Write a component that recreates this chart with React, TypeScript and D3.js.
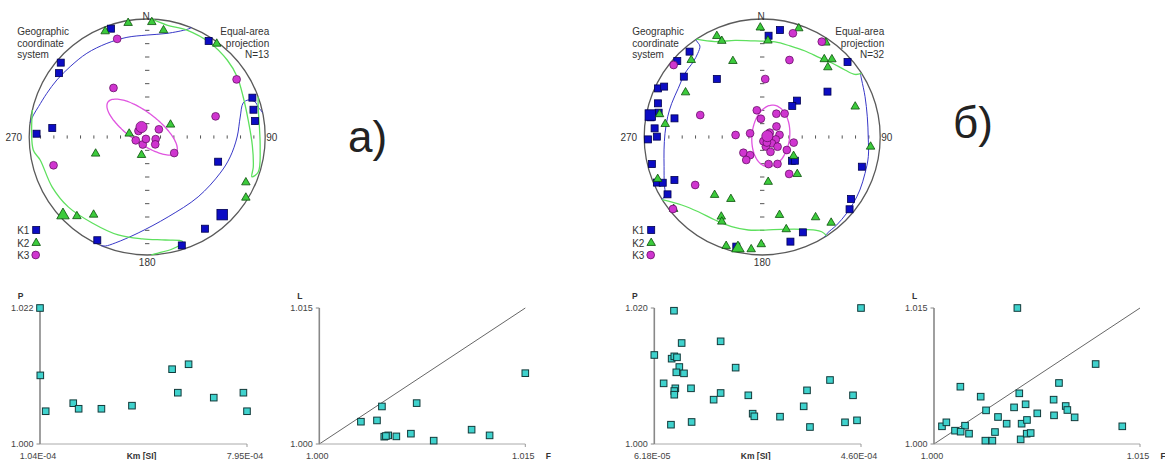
import React from 'react';
import * as d3 from 'd3';

type DI = [number, number];

// ---------- Stereonet (a): declination / inclination, lower hemisphere ----------
const NET_A_K1: DI[] = [[341.5,3.6],[310.7,3.8],[305.9,8.5],[32.6,3.8],[69.5,5.4],[75.6,7.8],[81.6,8.4],[275.4,20.3],[271.7,6.9],[109.2,36.5],[147.8,9.0],[205.8,3.2],[162.3,4.0]];
const NET_A_K1_MEAN: DI = [136.0, 9.4];
const NET_A_K2: DI[] = [[350.5,2.3],[2.3,2.9],[338.3,4.1],[8.7,9.4],[36.7,1.6],[62.1,71.8],[280.5,77.4],[197.5,77],[252.1,52.1],[114.7,8.8],[121.6,2.1],[221.6,11.2],[214.6,21.1]];
const NET_A_K2_MEAN: DI = [227.1, 2.9];
const NET_A_K3: DI[] = [[343,14.1],[57.2,10.8],[325.5,48.2],[73.2,39.3],[253.2,18.2],[304.7,82.7],[56.7,80.4],[253.6,81.8],[210.6,84],[213.7,88.4],[104,84],[132.5,82.5],[120.7,68.3]];
const NET_A_K3_MEAN: DI = [330.5, 82.1];
const NET_A_K1_CONF: DI[][] = [
  [[22,0],[20.4,3],[10.8,11.6],[359.8,14.7],[348.5,14.9],[336.7,14.7],[324.2,13.6],[312.4,12.6],[302.3,10.4],[293.5,8],[285.6,4.9],[281,2.1],[277,0]],
  [[203.1,0],[201,1.2],[196.8,6.9],[185.4,19.4],[165.3,30.7],[139.6,33.8],[116.3,31.6],[103.5,28.5],[90,24.8],[77.9,20.5],[70.5,14.8],[69.9,9.6],[72,4.3],[74.9,2.9],[78,0]],
];
const NET_A_K2_CONF: DI[][] = [
  [[2.4,0],[10,4.1],[20.4,3.8],[33.8,4.6],[46.1,6.6],[56.3,9.1],[67.4,12.9],[80.4,14.3],[94.6,11.6],[105.8,7.3],[110.8,5.7],[107.5,1.5],[94.9,4.4],[74.9,2.9],[70,0]],
  [[283.2,0],[263.5,3.2],[257.9,8],[242.2,9.9],[228.5,11.6],[212.6,14.6],[196.5,14.5],[182.8,14.6],[170.1,12.4],[161.4,7.7],[161.7,6],[167.4,3.1],[174.6,1.3],[178,0]],
];
// K3 confidence ellipse: [dec, inc, semi-major deg, semi-minor deg, azimuth of major axis]
const NET_A_K3_ELLIPSE = [334, 82.1, 29.5, 10.3, 127];

// ---------- Stereonet (b) ----------
const NET_B_K1: DI[] = [[3.6,15.1],[9.4,9],[319.6,5.6],[311.8,3.9],[307.6,17.3],[322,37.6],[48.7,4.2],[55.2,33.1],[43.7,54.9],[44.1,60],[295,2.9],[297.2,7.3],[287.9,7.9],[283.2,10.8],[282,25],[274.6,9.4],[268.8,3.6],[270.2,11.7],[256.2,4.2],[246.6,3.1],[245.3,8],[243.9,18.3],[238.8,6.9],[128.6,63.6],[106.6,12.9],[124.9,9],[129.6,4.4],[156.9,13.2],[164.9,9],[193.3,5.1],[280,4.5],[126,62]];
const NET_B_K1_MEAN: DI = [281.1, 3.8];
const NET_B_K2: DI[] = [[359,8],[18.6,3.2],[3.4,19.3],[335.8,6.9],[337.2,12.7],[34,4],[38.6,16.8],[41.9,12.6],[43.3,20],[338.9,31.6],[317.3,12.3],[300.2,25.8],[71.9,18.2],[282.5,11.9],[277.6,18.2],[95.1,8.6],[121.2,64.6],[136.6,54.4],[172.4,58.5],[248.1,5.1],[219.4,36.6],[206.8,40.8],[230.9,3.7],[207.2,25.1],[205.5,21.6],[167.5,32.8],[146.4,19.4],[141.2,7.5],[165.4,20.3],[198.3,3.1],[185.6,4.9],[180.5,10]];
const NET_B_K2_MEAN: DI = [192.3, 3.9];
const NET_B_K3: DI[] = [[16.5,9.2],[32,5.3],[19.5,31.4],[3,49.3],[309.1,3.7],[289.5,43.6],[274.3,71.6],[287,81.3],[348.6,71.2],[355.8,77.4],[31.3,71.2],[43.8,67.6],[53.6,77.8],[83,78],[100.2,80.5],[123.2,82],[159.2,83],[122.2,77.5],[150.9,78.3],[117.8,70.8],[100.1,67.9],[230,73.1],[213.7,75],[214.8,70.7],[166.8,70.8],[150.4,68.6],[143.9,58.2],[234.4,30.8],[231.1,3.2],[164,87],[140,85],[60,84]];
const NET_B_K3_MEAN: DI = [80, 86.4];
const NET_B_K1_CONF: DI[][] = [
  [[326,0],[325.7,1.7],[325.6,7.3],[322.4,11.5],[317.5,14.6],[309.5,16.3],[300.1,18.9],[290.4,19.3],[282.1,19.2],[272.2,18.7],[262.5,17.2],[253.2,14.2],[244.7,9],[239.2,4.6],[238,0]],
  [[57,1],[60.2,3.2],[68.6,7.1],[79.1,10.2],[90.2,11.1],[100.5,9.4],[109.5,8.4],[118.5,6.5],[126,5.1],[132.1,4],[139.7,2.6],[146,1.7],[148,0]],
];
const NET_B_K2_CONF: DI[][] = [
  [[326,0],[333.7,10.7],[344.3,16.1],[355.7,19.5],[7.7,19.8],[17,20.4],[26.5,19.7],[36.2,18.1],[43.3,14.9],[51,10.7],[56,5.8],[57.4,0]],
  [[238,0],[229.8,11.7],[220.5,17.8],[209.6,20.2],[198.8,20.8],[188.5,21.4],[178.3,22.2],[168.1,21.1],[156.8,16],[150.4,10.2],[147.9,5.8],[147,1.2],[147,0]],
];
const NET_B_K3_ELLIPSE = [83, 84, 21.3, 13, 6];

// ---------- Scatter plots ----------
const A_KM = [1.04, 1.05, 1.23, 2.15, 2.33, 3.09, 4.11, 5.45, 6.00, 5.64, 6.84, 7.83, 7.95]; // x1e-4 SI
const A_P = [1.0220, 1.0111, 1.0053, 1.0066, 1.0057, 1.0057, 1.0062, 1.0121, 1.0129, 1.0083, 1.0075, 1.0083, 1.0053];
const A_F = [1.00303, 1.0042, 1.00456, 1.00709, 1.00473, 1.00502, 1.00485, 1.00561, 1.00667, 1.00833, 1.01109, 1.0124, 1.0150];
const A_L = [1.00246, 1.0026, 1.00414, 1.00451, 1.00081, 1.00095, 1.00088, 1.00084, 1.00114, 1.00037, 1.00158, 1.00095, 1.00781];

const B_KM = [0.618, 0.997, 1.145, 0.952, 1.003, 1.055, 1.10, 1.042, 1.19, 0.798, 1.023, 1.003, 1.003, 1.325, 0.939, 1.337, 1.896, 2.185, 1.896, 1.761, 2.429, 2.513, 2.545, 3.04, 3.496, 3.56, 3.617, 4.003, 4.292, 4.446, 4.523, 4.60];
const B_P = [1.01309, 1.0196, 1.01485, 1.01255, 1.01289, 1.01275, 1.01132, 1.01054, 1.01039, 1.00892, 1.00819, 1.00779, 1.00725, 1.00819, 1.00284, 1.00324, 1.0151, 1.01123, 1.0075, 1.00652, 1.00716, 1.00446, 1.00407, 1.00402, 1.00554, 1.00789, 1.0025, 1.00941, 1.00319, 1.00716, 1.00348, 1.020];
const B_F = [1.00607, 1.01177, 1.00192, 1.0034, 1.0091, 1.00621, 1.00871, 1.00379, 1.00583, 1.00667, 1.00959, 1.00971, 1.00752, 1.00874, 1.01024, 1.00466, 1.00529, 1.00638, 1.00677, 1.00058, 1.0009, 1.00226, 1.00153, 1.00194, 1.00255, 1.00444, 1.00374, 1.00425, 1.00631, 1.00675, 1.00704, 1.01371];
const B_L = [1.015, 1.00882, 1.00632, 1.00522, 1.00673, 1.00559, 1.00489, 1.00371, 1.00404, 1.00438, 1.00419, 1.00375, 1.00338, 1.00316, 1.00294, 1.00298, 1.00224, 1.00224, 1.00265, 1.00195, 1.00239, 1.00202, 1.00147, 1.00136, 1.00114, 1.00132, 1.00037, 1.00037, 1.00051, 1.00114, 1.00121, 1.00195];

const A_KM_TICKS = ['1.04E-04', '7.95E-04'];
const A_P_TICKS = ['1.000', '1.022'];
const B_KM_TICKS = ['6.18E-05', '4.60E-04'];
const B_P_TICKS = ['1.000', '1.020'];
const FL_TICKS = ['1.000', '1.015'];

const FONT = "'Liberation Sans', Arial, Helvetica, sans-serif";
const RAD = Math.PI / 180;

function makeProj(cx: number, cy: number, R: number) {
  const rs = d3.scaleLinear().domain([0, 1]).range([0, R]);
  return (dec: number, inc: number): [number, number] => {
    const colat = (90 - inc) * RAD;
    const rho = Math.SQRT2 * Math.sin(colat / 2);
    const d = dec * RAD;
    return [cx + rs(rho) * Math.sin(d), cy - rs(rho) * Math.cos(d)];
  };
}

function toVec(dec: number, inc: number) {
  const d = dec * RAD, i = inc * RAD;
  return [Math.cos(i) * Math.cos(d), Math.cos(i) * Math.sin(d), Math.sin(i)];
}
function fromVec(v: number[]): DI {
  let [x, y, z] = v;
  if (z < 0) { x = -x; y = -y; z = -z; }
  return [Math.atan2(y, x) / RAD, Math.asin(Math.min(1, z)) / RAD];
}
function ellipseDI(p: number[]): DI[] {
  const [dec, inc, a, b, az] = p;
  const C = toVec(dec, inc);
  const h = [Math.cos(az * RAD), Math.sin(az * RAD), 0];
  const hc = h[0] * C[0] + h[1] * C[1] + h[2] * C[2];
  let A = [h[0] - hc * C[0], h[1] - hc * C[1], h[2] - hc * C[2]];
  const n = Math.hypot(A[0], A[1], A[2]);
  A = A.map((v) => v / n);
  const B = [C[1] * A[2] - C[2] * A[1], C[2] * A[0] - C[0] * A[2], C[0] * A[1] - C[1] * A[0]];
  const out: DI[] = [];
  const ar = a * RAD, br = b * RAD;
  for (let t = 0; t < 360; t += 3) {
    const tr = t * RAD;
    const r = (ar * br) / Math.sqrt((br * Math.cos(tr)) ** 2 + (ar * Math.sin(tr)) ** 2);
    const v = [0, 1, 2].map((k) => Math.cos(r) * C[k] + Math.sin(r) * (Math.cos(tr) * A[k] + Math.sin(tr) * B[k]));
    out.push(fromVec(v));
  }
  return out;
}

const BLUE_FILL = '#0c0cc4', BLUE_STROKE = '#000050';
const GREEN_FILL = '#3ccb3c', GREEN_STROKE = '#0b4f0b';
const MAG_FILL = '#cf35cf', MAG_STROKE = '#5a0a5a';

function Square({ x, y, s }: { x: number; y: number; s: number }) {
  return <rect x={x - s / 2} y={y - s / 2} width={s} height={s} fill={BLUE_FILL} stroke={BLUE_STROKE} strokeWidth={0.8} />;
}
function Tri({ x, y, s }: { x: number; y: number; s: number }) {
  const p = d3.symbol(d3.symbolTriangle, (Math.sqrt(3) / 4) * s * s)();
  return <path d={p || ''} transform={`translate(${x},${y})`} fill={GREEN_FILL} stroke={GREEN_STROKE} strokeWidth={0.8} />;
}
function Dot({ x, y, r }: { x: number; y: number; r: number }) {
  return <circle cx={x} cy={y} r={r} fill={MAG_FILL} stroke={MAG_STROKE} strokeWidth={0.7} />;
}

interface NetProps {
  cx: number; cy: number; R: number; n: number;
  k1: DI[]; k2: DI[]; k3: DI[]; m1: DI; m2: DI; m3: DI;
  c1: DI[][]; c2: DI[][]; e3: number[];
}

function Stereonet(p: NetProps) {
  const { cx, cy, R } = p;
  const proj = makeProj(cx, cy, R);
  const line = d3.line<[number, number]>().curve(d3.curveCatmullRom.alpha(0.5));
  const closed = d3.line<[number, number]>().curve(d3.curveCardinalClosed);
  const step = R / 8.85;
  const ks = d3.range(-8, 9).filter((k) => k !== 0);
  const lx = cx - 130;
  return (
    <g>
      <circle cx={cx} cy={cy} r={R} fill="none" stroke="#5a5a5a" strokeWidth={1.3} />
      {ks.map((k) => (
        <line key={'h' + k} x1={cx + k * step} x2={cx + k * step} y1={cy - 1.6} y2={cy + 1.6} stroke="#555" strokeWidth={1} />
      ))}
      {ks.map((k) => (
        <line key={'v' + k} x1={cx - 2.2} x2={cx + 2.2} y1={cy + k * step} y2={cy + k * step} stroke="#555" strokeWidth={1} />
      ))}
      {p.c1.map((c, i) => (
        <path key={'b' + i} d={line(c.map((d) => proj(d[0], d[1]))) || ''} fill="none" stroke="#3838c8" strokeWidth={1} />
      ))}
      {p.c2.map((c, i) => (
        <path key={'g' + i} d={line(c.map((d) => proj(d[0], d[1]))) || ''} fill="none" stroke="#5ee05e" strokeWidth={1.3} />
      ))}
      <path d={closed(ellipseDI(p.e3).map((d) => proj(d[0], d[1]))) || ''} fill="none" stroke="#e055e0" strokeWidth={1.3} />
      {p.k1.map((d, i) => { const [x, y] = proj(d[0], d[1]); return <Square key={'s' + i} x={x} y={y} s={7} />; })}
      {(() => { const [x, y] = proj(p.m1[0], p.m1[1]); return <Square x={x} y={y} s={10.5} />; })()}
      {p.k2.map((d, i) => { const [x, y] = proj(d[0], d[1]); return <Tri key={'t' + i} x={x} y={y} s={8.5} />; })}
      {(() => { const [x, y] = proj(p.m2[0], p.m2[1]); return <Tri x={x} y={y} s={12.5} />; })()}
      {p.k3.map((d, i) => { const [x, y] = proj(d[0], d[1]); return <Dot key={'c' + i} x={x} y={y} r={3.9} />; })}
      {(() => { const [x, y] = proj(p.m3[0], p.m3[1]); return <Dot x={x} y={y} r={5.6} />; })()}
      <g fontFamily={FONT} fontSize={10} fill="#333">
        <text x={cx - 1} y={20} textAnchor="middle">N</text>
        <text x={cx - R - 7} y={cy + 3.5} textAnchor="end">270</text>
        <text x={cx + R + 1} y={cy + 3.5}>90</text>
        <text x={cx} y={cy + R + 11} textAnchor="middle">180</text>
        <text x={lx} y={35}>Geographic</text>
        <text x={lx} y={46.5}>coordinate</text>
        <text x={lx} y={58}>system</text>
        <text x={cx + 122} y={35} textAnchor="end">Equal-area</text>
        <text x={cx + 122} y={46.5} textAnchor="end">projection</text>
        <text x={cx + 122} y={58} textAnchor="end">{`N=${p.n}`}</text>
        <text x={lx} y={233.5}>K1</text>
        <text x={lx} y={246.5}>K2</text>
        <text x={lx} y={259}>K3</text>
      </g>
      <Square x={lx + 19} y={230} s={7} />
      <Tri x={lx + 19} y={243} s={8.5} />
      <Dot x={lx + 18.5} y={255} r={3.9} />
    </g>
  );
}

interface ScatterProps {
  x0: number; x1: number; yTop: number; yBot: number;
  xDom: [number, number]; yDom: [number, number];
  xs: number[]; ys: number[];
  xTicks: string[]; yTicks: string[];
  yTitle: string; xTitle?: string; rightTitle?: string; diagonal?: boolean;
}

function Scatter(p: ScatterProps) {
  const x = d3.scaleLinear().domain(p.xDom).range([p.x0, p.x1]);
  const y = d3.scaleLinear().domain(p.yDom).range([p.yBot, p.yTop]);
  const s = 6.6;
  const base = p.yBot + 14.5;
  return (
    <g fontFamily={FONT}>
      {p.diagonal && (
        <line x1={x(p.xDom[0])} y1={y(p.yDom[0])} x2={x(p.xDom[1])} y2={y(p.yDom[1])} stroke="#555" strokeWidth={0.9} />
      )}
      <line x1={p.x0} x2={p.x1} y1={p.yBot} y2={p.yBot} stroke="#aaa" strokeWidth={1} />
      <line x1={p.x1} x2={p.x1} y1={p.yBot} y2={p.yBot + 3} stroke="#999" strokeWidth={1} />
      <line x1={p.x0} x2={p.x0} y1={p.yTop} y2={p.yBot} stroke="#888" strokeWidth={1.6} />
      <line x1={p.x0 - 3.5} x2={p.x0} y1={p.yTop} y2={p.yTop} stroke="#888" strokeWidth={1} />
      <line x1={p.x0 - 3.5} x2={p.x0} y1={p.yBot} y2={p.yBot} stroke="#888" strokeWidth={1} />
      {p.xs.map((v, i) => (
        <rect key={i} x={x(v) - s / 2} y={y(p.ys[i]) - s / 2} width={s} height={s} fill="#3fd2cd" stroke="#123a3a" strokeWidth={1} />
      ))}
      <g fontSize={9} fill="#444">
        <text x={p.x0 - 6.5} y={p.yTop + 3.3} textAnchor="end">{p.yTicks[1]}</text>
        <text x={p.x0 - 6.5} y={p.yBot + 3.3} textAnchor="end">{p.yTicks[0]}</text>
        <text x={p.x0 - 2} y={base} textAnchor="middle">{p.xTicks[0]}</text>
        <text x={p.x1 - 2} y={base} textAnchor="middle">{p.xTicks[1]}</text>
      </g>
      <g fontSize={8.5} fontWeight="bold" fill="#333">
        <text x={p.x0 - 19.5} y={p.yTop - 9} textAnchor="middle">{p.yTitle}</text>
        {p.xTitle && <text x={(p.x0 + p.x1) / 2 - 2} y={base} textAnchor="middle">{p.xTitle}</text>}
        {p.rightTitle && <text x={p.x1 + 23} y={base} textAnchor="middle">{p.rightTitle}</text>}
      </g>
    </g>
  );
}

export default function App() {
  React.useLayoutEffect(() => {
    document.body.style.margin = '0';
  }, []);
  const yTop = 308, yBot = 444;
  return (
    <svg width={1165} height={460} style={{ position: 'absolute', left: 0, top: 0, background: '#fff' }}>
      <rect width={1165} height={460} fill="#fff" />
      <Stereonet cx={147.2} cy={137} R={118} n={13} k1={NET_A_K1} k2={NET_A_K2} k3={NET_A_K3}
        m1={NET_A_K1_MEAN} m2={NET_A_K2_MEAN} m3={NET_A_K3_MEAN} c1={NET_A_K1_CONF} c2={NET_A_K2_CONF} e3={NET_A_K3_ELLIPSE} />
      <Stereonet cx={762.2} cy={137} R={118} n={32} k1={NET_B_K1} k2={NET_B_K2} k3={NET_B_K3}
        m1={NET_B_K1_MEAN} m2={NET_B_K2_MEAN} m3={NET_B_K3_MEAN} c1={NET_B_K1_CONF} c2={NET_B_K2_CONF} e3={NET_B_K3_ELLIPSE} />
      <text x={348} y={152} fontFamily={FONT} fontSize={44} fill="#222">а)</text>
      <text x={953} y={138} fontFamily={FONT} fontSize={44} fill="#222">б)</text>
      <Scatter x0={40} x1={247} yTop={yTop} yBot={yBot} xDom={[1.04, 7.95]} yDom={[1.0, 1.022]} xs={A_KM} ys={A_P}
        xTicks={A_KM_TICKS} yTicks={A_P_TICKS} yTitle="P" xTitle="Km [SI]" />
      <Scatter x0={319.3} x1={525.3} yTop={yTop} yBot={yBot} xDom={[1.0, 1.015]} yDom={[1.0, 1.015]} xs={A_F} ys={A_L}
        xTicks={FL_TICKS} yTicks={FL_TICKS} yTitle="L" rightTitle="F" diagonal />
      <Scatter x0={654.3} x1={861} yTop={yTop} yBot={yBot} xDom={[0.618, 4.6]} yDom={[1.0, 1.02]} xs={B_KM} ys={B_P}
        xTicks={B_KM_TICKS} yTicks={B_P_TICKS} yTitle="P" xTitle="Km [SI]" />
      <Scatter x0={934} x1={1140} yTop={yTop} yBot={yBot} xDom={[1.0, 1.015]} yDom={[1.0, 1.015]} xs={B_F} ys={B_L}
        xTicks={FL_TICKS} yTicks={FL_TICKS} yTitle="L" rightTitle="F" diagonal />
    </svg>
  );
}
